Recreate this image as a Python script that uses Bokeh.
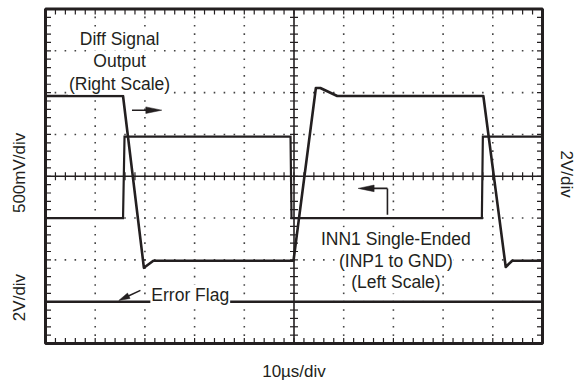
import numpy as np
from bokeh.plotting import figure
from bokeh.core.properties import value
from bokeh.embed import file_html
from bokeh.resources import INLINE

# ---- data (x in microseconds, y in screen divisions, 0 = centre line) ----
time_diff = [0, 15.6, 19.8, 21.7, 49.9, 54.4, 55.3, 58.7, 88.1, 92.6, 93.9, 100]
diff_out = [1.92, 1.92, -2.19, -2.02, -2.02, 2.11, 2.11, 1.92, 1.92, -2.17, -2.02, -2.02]

time_inn = [0, 15.6, 15.9, 49.3, 49.5, 87.8, 88.0, 100]
inn1 = [-1.0, -1.0, 0.95, 0.95, -1.0, -1.0, 0.95, 0.95]

time_flag = [0, 100]
err_flag = [-3.0, -3.0]

x_divs = [0, 10, 20, 30, 40, 50, 60, 70, 80, 90, 100]
y_divs = [-4, -3, -2, -1, 0, 1, 2, 3, 4]

INK = "#231f20"
FONT = value("Liberation Sans")

# canvas geometry: scope screen occupies px 45..542 (x) and 8.5..343 (y)
W, H = 576, 381
sx = 497 / 100.0          # px per microsecond
sy = 334.5 / 8.0          # px per division
x0 = -45 / sx
x1 = 100 + (W - 542) / sx
y1 = 4 + 8.5 / sy
y0 = -4 - (H - 343) / sy

p = figure(width=W, height=H, x_range=(x0, x1), y_range=(y0, y1),
           x_axis_type=None, y_axis_type=None, output_backend="svg",
           toolbar_location=None, min_border=0)
p.outline_line_color = None
p.background_fill_color = "white"
p.border_fill_color = "white"

mx = np.arange(0, 100.001, 2.0)
my = np.arange(-4, 4.001, 0.2)

# dotted graticule
gx, gy = [], []
for xv in x_divs[1:-1]:
    if xv == 50:
        continue
    for yv in my:
        gx.append(xv); gy.append(yv)
for yv in y_divs[1:-1]:
    if yv == 0:
        continue
    for xv in mx:
        gx.append(xv); gy.append(yv)
p.scatter(gx, gy, marker="square", size=1.6, color="#444444", line_width=0)

# centre lines
p.line([0, 100], [0, 0], line_color=INK, line_width=1.6)
p.line([50, 50], [-4, 4], line_color=INK, line_width=1.6)

# ticks
c = 4.0   # half length on centre lines, px
e = 5.5   # inward length on frame edges, px
tx0, ty0, tx1, ty1 = [], [], [], []
for xv in mx:
    tx0 += [xv, xv, xv]; tx1 += [xv, xv, xv]
    ty0 += [-c / sy, 4, -4]; ty1 += [c / sy, 4 - e / sy, -4 + e / sy]
for yv in my:
    ty0 += [yv, yv, yv]; ty1 += [yv, yv, yv]
    tx0 += [50 - c / sx, 0, 100]; tx1 += [50 + c / sx, e / sx, 100 - e / sx]
p.segment(tx0, ty0, tx1, ty1, line_color=INK, line_width=1.2)

# traces
p.line(time_flag, err_flag, line_color=INK, line_width=2.5)
p.line(time_inn, inn1, line_color=INK, line_width=2.2, line_join="miter")
p.line(time_diff, diff_out, line_color=INK, line_width=2.6, line_join="round")

# screen frame
p.quad(left=[0], right=[100], bottom=[-4], top=[4], fill_color=None,
       line_color=INK, line_width=3)


def head(tip, tail, L=15, w=3.3):
    dx = (tip[0] - tail[0]) * sx
    dy = (tip[1] - tail[1]) * sy
    n = (dx * dx + dy * dy) ** 0.5
    ux, uy = dx / n, dy / n
    bx, by = -L * ux, -L * uy
    px, py = -uy * w, ux * w
    xs = [tip[0], tip[0] + (bx + px) / sx, tip[0] + (bx - px) / sx]
    ys = [tip[1], tip[1] + (by + py) / sy, tip[1] + (by - py) / sy]
    base = (tip[0] + bx / sx * 0.8, tip[1] + by / sy * 0.8)
    return xs, ys, base


arrows = [
    ((23.4, 1.58), (17.4, 1.58), 16, 3.3),
    ((62.9, -0.29), (68.8, -0.29), 16, 3.3),
    ((14.75, -2.97), (19.1, -2.73), 11, 3.0),
]
hx, hy = [], []
for tip, tail, L, w in arrows:
    xs, ys, base = head(tip, tail, L, w)
    hx.append(xs); hy.append(ys)
    p.line([tail[0], base[0]], [tail[1], base[1]], line_color=INK, line_width=1.6)
p.patches(hx, hy, fill_color=INK, line_color=INK, line_width=0.5)
p.line([68.8, 68.8], [-0.29, -0.92], line_color=INK, line_width=1.6)

# annotations inside the screen
txt = dict(text_baseline="alphabetic", text_font=FONT, text_font_size="17.5px",
           text_color=INK, background_fill_color="white", padding=1)
p.text([14.9, 14.9, 14.9], [3.28, 2.75, 2.21], text=["Diff Signal", "Output", "(Right Scale)"],
       text_align="center", **txt)
p.text([70.5, 70.5, 70.5], [-1.49, -2.03, -2.54],
       text=["INN1 Single-Ended", "(INP1 to GND)", "(Left Scale)"],
       text_align="center", **txt)
p.text([21.1], [-2.85], text=["Error Flag"], text_align="left", **txt)

# scale labels outside the screen
lab = dict(text_font=FONT, text_font_size="17px", text_color=INK)
p.text([-5.2, -5.2], [0.08, -2.9], text=["500mV/div", "2V/div"], angle=np.pi / 2,
       text_align="center", text_baseline="middle", **lab)
p.text([104.8], [0.05], text=["2V/div"], angle=-np.pi / 2,
       text_align="center", text_baseline="middle", **lab)
p.text([50], [-4.66], text=["10\u00b5s/div"], text_align="center",
       text_baseline="middle", **lab)

open("out.html", "w").write(file_html(p, INLINE))
